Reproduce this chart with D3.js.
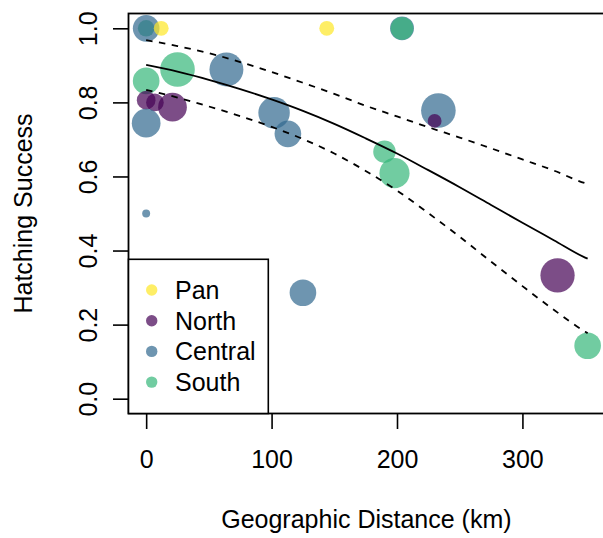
<!DOCTYPE html>
<html><head><meta charset="utf-8">
<script src="https://cdn.jsdelivr.net/npm/d3@7"></script>
<style>
body{margin:0;background:#fff}
svg{display:block}
text{font-family:"Liberation Sans", Arial, Helvetica, sans-serif;fill:#000}
</style>
</head><body>
<svg id="c" width="603" height="538"></svg>
<script>
// ---------- data ----------
const groups = ["Pan", "North", "Central", "South"];
const groupColors = ["#FDE725", "#440154", "#31688E", "#35B779"];

// points, listed in drawing order
const ptGroup   = ["South","Central","Pan","Pan","Central","South","South","Central","South","North","North","North","Central","Central","Central","Central","North","South","South","Central","Central","North","South"];
const ptDist    = [0, 0, 12, 144, 204, 204, 25, 64, 0, 0, 7, 21, 0, 102, 113, 233, 230, 190, 198, 0, 125, 328, 352];
const ptSuccess = [1.0, 1.0, 1.0, 1.0, 1.0, 1.0, 0.889, 0.889, 0.858, 0.806, 0.80, 0.787, 0.744, 0.772, 0.715, 0.778, 0.75, 0.667, 0.609, 0.5, 0.286, 0.333, 0.143];
const ptWeight  = [4.8, 7.7, 4.3, 4.3, 6.9, 6.6, 10, 9.8, 7.7, 5.4, 5.1, 8.3, 8.3, 9.1, 7.7, 10, 4.0, 6.5, 8.7, 2.3, 7.7, 9.9, 7.7];

// fitted curve and confidence band
const fitDist  = [0, 25, 50, 75, 100, 125, 150, 175, 200, 225, 250, 275, 300, 325, 350, 352];
const fitMean  = [0.901, 0.883, 0.861, 0.836, 0.808, 0.777, 0.742, 0.703, 0.662, 0.617, 0.571, 0.523, 0.475, 0.428, 0.381, 0.378];
const fitUpper = [0.968, 0.952, 0.933, 0.909, 0.882, 0.853, 0.823, 0.791, 0.762, 0.733, 0.705, 0.676, 0.646, 0.616, 0.582, 0.580];
const fitLower = [0.834, 0.813, 0.789, 0.763, 0.734, 0.701, 0.662, 0.615, 0.562, 0.501, 0.437, 0.370, 0.304, 0.240, 0.181, 0.177];

const xTicks = [0, 100, 200, 300];
const yTicks = [0.0, 0.2, 0.4, 0.6, 0.8, 1.0];
const xTitle = "Geographic Distance (km)";
const yTitle = "Hatching Success";

// ---------- layout ----------
const svg = d3.select("#c");
const L = 128.5, R = 605.3, T = 13.5, B = 413.5;
const FS = 25;

function ext(a){ const e = d3.extent(a); const d = (e[1]-e[0])*0.04; return [e[0]-d, e[1]+d]; }
const x = d3.scaleLinear().domain(ext(ptDist)).range([L, R]);
const y = d3.scaleLinear().domain(ext([0, 1])).range([B, T]);
const r = d3.scaleLinear().domain([0, 10]).range([0, 17.3]);
const color = d3.scaleOrdinal().domain(groups).range(groupColors);

// points
svg.append("g").selectAll("circle")
  .data(ptDist.map((d,i)=>({d, s: ptSuccess[i], g: ptGroup[i], w: ptWeight[i]})))
  .join("circle")
  .attr("cx", p=>x(p.d)).attr("cy", p=>y(p.s)).attr("r", p=>r(p.w))
  .attr("fill", p=>color(p.g)).attr("fill-opacity", 0.7);

// fitted lines
const fit = fitDist.map((d,i)=>({d, m: fitMean[i], u: fitUpper[i], l: fitLower[i]}));
const line = key => d3.line().x(p=>x(p.d)).y(p=>y(p[key])).curve(d3.curveMonotoneX)(fit);
svg.append("path").attr("d", line("m")).attr("fill","none").attr("stroke","#000").attr("stroke-width",1.8);
svg.append("path").attr("d", line("u")).attr("fill","none").attr("stroke","#000").attr("stroke-width",1.8).attr("stroke-dasharray","6.5,6.5");
svg.append("path").attr("d", line("l")).attr("fill","none").attr("stroke","#000").attr("stroke-width",1.8).attr("stroke-dasharray","6.5,6.5");

// frame
svg.append("rect").attr("x",L).attr("y",T).attr("width",R-L).attr("height",B-T)
  .attr("fill","none").attr("stroke","#000").attr("stroke-width",1.8);

// x axis
const xa = svg.append("g").attr("transform",`translate(0,${B})`)
  .call(d3.axisBottom(x).tickValues(xTicks).tickSize(15.5).tickPadding(0).tickFormat(d3.format("d")));
xa.select(".domain").remove();
xa.selectAll(".tick line").attr("stroke","#000").attr("stroke-width",1.6);
xa.selectAll(".tick text").attr("font-size",FS).attr("font-family",'"Liberation Sans", Arial, sans-serif')
  .attr("y", 468 - B).attr("dy", null);

// y axis
const ya = svg.append("g").attr("transform",`translate(${L},0)`)
  .call(d3.axisLeft(y).tickValues(yTicks).tickSize(15.5).tickFormat(d3.format(".1f")));
ya.select(".domain").remove();
ya.selectAll(".tick line").attr("stroke","#000").attr("stroke-width",1.6);
ya.selectAll(".tick text").attr("font-size",FS).attr("font-family",'"Liberation Sans", Arial, sans-serif')
  .attr("x", null).attr("dy", null).attr("text-anchor","middle")
  .attr("transform", `translate(${96.5 - L},0) rotate(-90)`);

// titles
svg.append("text").attr("x",(L+R)/2 - 0.5).attr("y",528).attr("text-anchor","middle")
  .attr("font-size",FS).text(xTitle);
svg.append("text").attr("transform",`translate(31.5,${(T+B)/2}) rotate(-90)`).attr("text-anchor","middle")
  .attr("font-size",FS).text(yTitle);

// legend
const lg = svg.append("g");
lg.append("rect").attr("x",L).attr("y",259.3).attr("width",268.3-L).attr("height",B-259.3)
  .attr("fill","#fff").attr("stroke","#000").attr("stroke-width",1.6);
groups.forEach((g,i)=>{
  const yy = 290 + i*30.7;
  lg.append("circle").attr("cx",151.7).attr("cy",yy).attr("r",5.7).attr("fill",color(g)).attr("fill-opacity",0.7);
  lg.append("text").attr("x",175).attr("y",yy+9).attr("font-size",FS).text(g);
});
</script>
</body></html>
